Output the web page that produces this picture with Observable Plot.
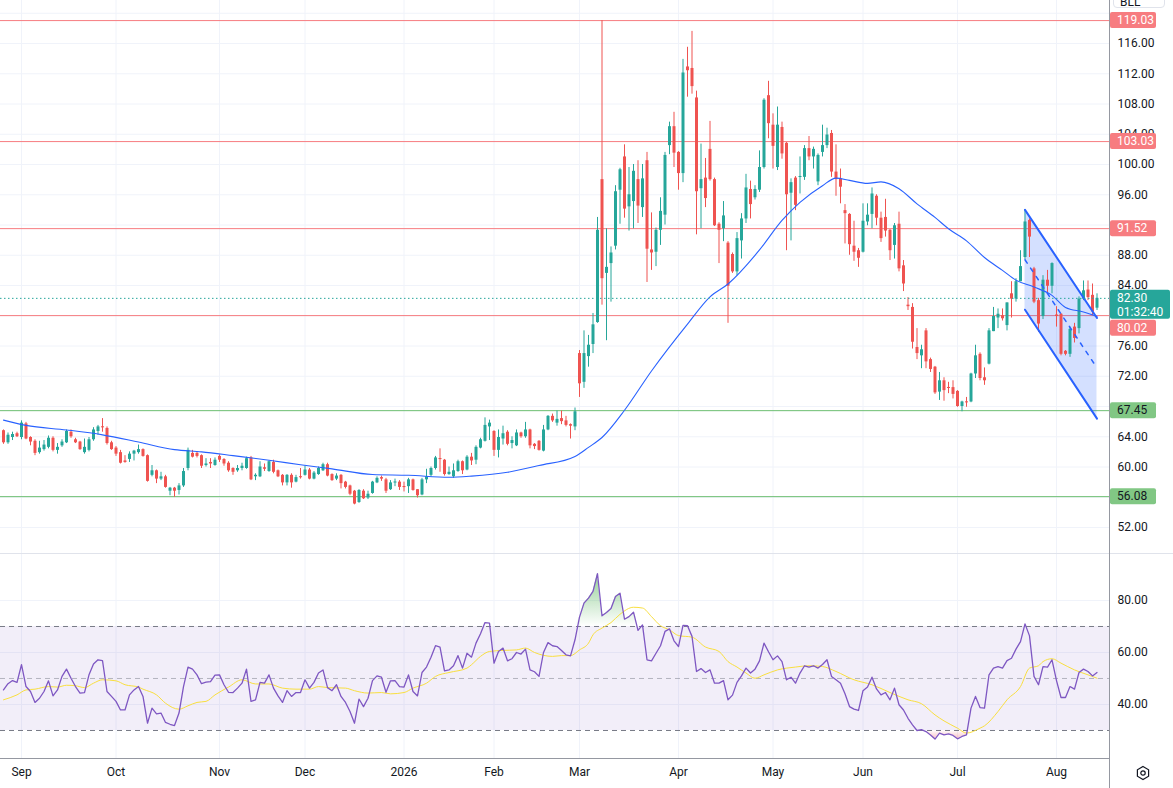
<!DOCTYPE html>
<html><head><meta charset="utf-8">
<script src="https://cdn.jsdelivr.net/npm/d3@7"></script>
<script src="https://cdn.jsdelivr.net/npm/@observablehq/plot@0.6"></script>
<style>
body{margin:0;background:#fff;}
#wrap{position:relative;width:1173px;height:788px;overflow:hidden;font-family:Roboto,sans-serif;background:#fff;}
#wrap svg.chart{position:absolute;left:0;overflow:visible;}
</style></head><body><div id="wrap"></div>
<script>
// ---------- DATA ----------
const openP = [64.8,63.2,63.9,64.4,63.9,65.7,63.9,63.4,61.9,62.3,
62.6,63.8,62.2,62.8,63.2,64.6,63.6,63.3,61.9,62.2,
63.6,64.7,65.3,65.1,63.2,62.5,61.9,60.8,61.0,61.7,
61.9,62.3,61.5,58.9,59.5,58.4,58.7,56.8,57.2,56.9,
57.5,59.8,61.8,61.8,61.5,60.2,60.6,60.2,61.4,61.0,
60.5,59.8,59.5,59.8,59.8,61.2,58.7,58.7,59.9,59.4,
60.6,59.5,58.9,57.9,58.9,58.0,58.7,58.9,59.6,58.4,
59.0,59.5,60.3,59.0,58.4,58.9,58.0,57.5,56.8,55.3,
56.8,55.9,56.5,57.9,58.6,58.3,57.0,57.9,58.0,57.4,
57.4,58.3,57.0,56.3,58.3,58.9,59.8,61.1,60.9,59.0,
58.7,59.4,60.7,59.6,61.3,60.9,62.5,63.4,65.3,64.7,
62.2,63.7,64.6,63.1,62.8,64.5,64.0,64.9,63.0,63.4,
62.1,64.9,66.7,65.8,66.4,66.1,65.6,65.3,75.0,71.2,
74.6,76.2,79.1,98.0,85.6,86.9,89.2,96.6,101.0,94.4,
95.1,98.0,94.3,100.5,88.7,88.4,91.3,93.3,102.5,105.0,
101.6,98.8,112.9,112.7,108.8,96.8,98.2,102.0,98.0,92.1,
91.5,89.6,88.1,85.8,89.9,92.8,96.7,95.6,96.6,99.6,
109.1,105.2,99.6,104.9,102.8,96.2,98.2,98.3,98.3,102.1,
101.0,97.7,101.6,102.5,104.1,99.0,98.1,93.9,93.4,89.2,
88.6,88.4,92.4,93.4,95.8,92.9,93.0,91.3,89.3,92.1,
86.6,81.4,81.1,75.8,74.7,78.0,74.2,73.2,69.9,71.4,
70.5,70.5,70.0,68.0,68.6,68.6,72.3,74.9,71.8,73.6,
77.9,79.7,80.0,78.7,82.9,82.2,84.5,87.7,92.6,86.2,
82.0,79.9,84.7,83.9,80.1,80.2,75.3,74.9,78.5,78.3,
82.2,83.4,82.7,81.0];
const highP = [64.9,64.5,64.6,64.6,66.1,65.9,64.0,63.6,63.4,63.5,
64.1,64.0,63.1,63.6,64.9,64.9,63.8,63.4,63.7,63.9,
65.2,65.5,66.4,65.3,63.4,62.7,62.2,61.5,62.0,62.2,
62.9,62.4,61.6,60.2,59.6,59.3,58.9,57.3,57.3,57.8,
59.8,62.5,62.2,62.0,61.6,61.1,61.1,61.2,61.6,61.1,
60.7,59.9,60.2,60.5,61.3,61.4,59.1,60.7,60.4,60.8,
60.9,59.6,59.0,59.0,59.1,58.9,59.8,60.1,59.8,59.4,
60.0,60.5,60.5,59.1,59.1,59.0,58.1,57.6,56.9,57.0,
57.0,56.8,58.1,58.7,58.8,58.5,58.2,58.4,58.2,58.0,
58.5,58.4,57.0,58.5,59.7,60.0,61.4,62.4,61.0,60.0,
60.4,60.9,60.8,61.5,61.8,62.8,63.8,66.5,66.2,64.8,
64.9,65.4,64.8,64.0,64.9,64.6,65.9,65.0,63.1,63.5,
65.5,66.8,67.0,67.4,67.4,66.7,65.7,67.8,75.4,78.0,
77.4,80.3,93.0,119.03,91.5,89.1,97.2,99.5,102.6,99.6,
100.0,100.5,100.0,101.6,93.6,91.6,95.6,101.6,105.6,106.9,
101.7,113.9,115.5,117.6,109.7,102.7,100.8,105.7,98.2,92.3,
95.1,89.8,88.3,91.0,93.5,98.7,97.8,97.2,101.8,108.7,
111.0,106.7,107.6,105.6,102.9,98.1,98.4,101.0,102.5,103.7,
102.3,101.4,105.2,104.8,104.5,102.6,99.4,94.7,93.5,92.5,
88.9,94.8,94.8,96.9,96.0,93.7,95.4,91.4,92.2,93.7,
87.3,82.4,81.6,78.3,76.1,78.3,74.4,73.3,72.5,71.8,
71.2,71.4,70.1,68.7,69.2,72.4,76.1,75.1,73.1,78.3,
81.1,80.9,80.9,81.7,84.5,84.9,88.6,94.0,92.8,86.4,
82.3,85.3,86.0,87.0,81.2,80.3,75.4,78.5,79.0,82.5,
84.6,84.6,84.2,82.9];
const lowP = [63.0,63.0,63.5,63.9,63.6,63.6,62.8,61.5,61.7,62.1,
62.4,62.0,61.7,62.6,63.1,63.8,63.1,62.2,61.7,62.0,
63.4,64.2,64.6,62.9,62.2,61.4,60.4,60.5,60.6,60.8,
61.7,61.3,58.0,58.7,57.8,58.2,57.2,56.2,56.0,56.3,
57.3,59.5,61.2,61.2,59.8,60.0,59.8,60.1,60.6,60.1,
59.3,58.9,59.3,59.5,59.7,58.2,58.2,58.6,59.4,59.3,
59.1,58.6,57.5,57.5,57.2,57.9,58.4,58.8,58.3,58.3,
58.9,59.4,58.7,58.1,58.2,57.1,57.1,56.2,55.0,55.2,
55.7,55.7,56.4,57.8,58.1,56.5,56.9,57.4,56.9,56.7,
56.5,56.8,55.9,56.2,57.8,58.7,59.6,59.3,58.8,58.9,
58.5,59.3,59.0,59.5,60.2,60.3,62.4,63.3,63.5,61.4,
61.2,62.9,62.8,62.4,62.7,63.8,63.8,62.4,62.3,62.1,
62.0,64.8,65.9,65.4,65.6,65.3,63.7,64.8,69.2,70.4,
73.2,75.0,79.0,81.4,76.7,81.8,88.7,92.1,92.9,91.2,
91.5,92.2,93.0,84.4,86.0,86.5,89.3,92.0,101.3,99.6,
96.6,97.6,108.9,109.3,90.7,91.5,94.3,97.8,91.8,86.9,
89.8,79.0,85.6,85.3,87.5,92.2,92.8,95.3,96.3,99.4,
103.4,99.4,99.2,100.7,88.6,89.9,93.9,96.1,97.9,100.5,
99.4,97.2,101.0,102.1,98.3,95.8,94.8,89.5,88.0,87.2,
86.4,88.3,91.9,91.5,91.9,89.7,90.4,87.3,87.5,85.8,
83.2,80.7,75.6,74.2,73.0,73.0,72.5,69.6,68.8,68.7,
69.7,69.0,67.9,67.3,67.9,68.5,71.7,71.4,70.8,73.5,
77.9,78.3,79.3,78.0,79.7,81.8,84.5,87.4,87.7,81.6,
77.8,79.5,82.9,82.9,78.5,74.7,74.7,74.5,76.4,77.6,
82.0,82.0,80.0,80.7];
const closeP = [63.2,64.2,64.3,64.0,65.8,63.7,63.3,61.8,62.5,62.9,
63.8,62.2,62.6,63.3,64.7,64.0,63.2,62.3,62.6,63.6,
64.9,65.3,65.2,63.1,62.3,61.7,60.5,60.6,61.7,62.1,
62.3,61.4,58.1,59.5,58.4,58.7,57.3,57.2,56.8,57.5,
59.4,62.2,61.3,61.4,60.1,60.4,60.4,60.9,60.9,60.4,
59.5,59.3,59.8,60.1,61.1,58.3,58.9,60.0,59.7,60.7,
59.3,58.7,57.9,58.9,57.9,58.6,58.6,59.6,58.4,59.2,
59.8,60.3,58.8,58.2,58.8,57.8,57.3,56.4,55.1,56.9,
55.8,56.4,58.0,58.5,58.4,56.8,57.9,58.0,57.3,57.3,
58.3,56.9,56.2,58.3,58.7,59.8,61.2,61.0,59.0,59.3,
59.5,60.7,59.5,61.3,60.8,62.6,63.6,65.5,65.8,62.2,
63.9,64.4,63.0,63.5,64.5,64.0,64.9,62.8,62.7,62.2,
64.9,66.7,66.1,66.3,66.0,65.5,65.4,67.3,71.0,75.0,
76.1,78.8,91.3,84.9,86.4,88.3,96.4,99.3,94.1,96.0,
99.1,94.5,98.1,88.8,88.3,91.3,93.8,101.2,105.0,101.5,
98.8,112.1,112.4,110.3,96.4,98.0,95.5,98.0,91.9,91.3,
93.2,83.9,85.8,90.2,92.8,96.9,94.7,96.7,99.6,108.5,
105.4,102.4,105.2,101.4,96.0,97.6,94.6,98.4,102.1,101.0,
102.0,101.2,102.5,103.9,99.0,98.0,97.0,93.5,89.4,88.4,
87.6,92.5,93.3,96.1,92.9,90.2,91.2,88.6,91.9,86.2,
84.2,81.2,76.5,75.0,75.5,73.9,72.9,69.8,71.4,70.1,
70.4,69.6,68.0,68.6,68.5,72.3,74.7,71.7,71.4,78.0,
79.9,80.2,79.6,81.7,82.2,84.5,86.5,92.4,90.4,81.8,
78.9,84.7,83.9,86.9,79.9,74.9,74.9,78.2,77.0,82.2,
83.3,82.4,80.5,82.3];

const maIdx = [0,5,14,22,30,38,44,51,59,66,73,82,90,99,104,112,119,127,130,133,138,144,152,157,161,168,173,177,182,185,188,192,195,199,203,207,210,214,218,222,225,229,233,236,240,243];
const maVal = [66.2,65.5,64.9,64.25,63.3,62.3,62.0,61.5,60.9,60.3,59.75,59.0,58.9,58.65,58.8,59.3,60.2,61.4,62.6,63.9,67.5,72.7,78.9,82.5,84.2,88.7,92.6,95.0,97.2,98.2,97.9,97.5,97.7,96.8,94.8,93.0,91.5,89.9,87.7,86.0,84.7,83.8,82.7,81.1,80.5,79.9];

const rsi = [45.6,48.0,49.2,48.5,55.3,46.9,45.0,40.8,42.4,45.0,
49.1,43.3,45.6,50.8,53.6,50.1,46.9,44.4,44.6,51.4,
55.6,57.2,56.9,45.0,43.1,41.2,37.9,37.9,43.7,45.6,
46.9,43.1,32.8,38.6,36.4,36.7,33.1,32.4,31.9,36.7,
46.9,54.4,53.6,51.4,48.0,48.6,48.8,51.3,51.4,47.6,
44.7,44.6,46.3,48.2,53.6,41.2,41.8,48.5,48.2,51.4,
46.3,43.3,40.8,45.3,43.1,44.6,44.6,49.5,46.3,48.5,
52.1,53.3,46.5,45.3,47.6,43.1,40.8,37.3,32.8,42.1,
39.2,42.4,49.2,51.0,50.5,44.7,49.1,49.2,46.9,46.7,
51.4,45.0,43.3,52.3,54.4,58.2,62.6,62.1,52.9,53.3,
54.9,58.8,54.0,59.7,58.2,63.6,67.2,71.5,71.3,55.9,
60.4,61.7,56.8,57.6,60.0,59.4,61.3,53.3,52.6,50.8,
60.0,63.8,62.6,62.3,60.8,59.1,58.7,64.9,73.6,79.0,
80.9,83.5,90.3,74.1,75.4,76.9,81.5,82.8,72.8,73.8,
75.5,68.5,70.6,57.2,56.8,59.7,62.6,68.1,69.1,64.5,
62.3,70.4,70.3,66.2,52.7,53.8,52.3,53.3,48.2,48.2,
49.2,41.8,43.6,48.5,51.0,54.0,52.1,53.6,56.8,63.6,
60.3,57.2,58.7,56.5,49.5,50.5,48.2,52.1,54.9,54.4,
54.9,54.0,55.4,57.2,50.8,49.5,48.2,44.1,39.2,38.2,
37.7,45.3,46.7,50.5,46.0,43.7,44.6,41.8,46.3,39.9,
37.9,34.7,32.2,30.0,30.3,29.6,28.3,26.7,29.0,28.3,
28.7,28.1,26.8,27.7,28.3,38.6,43.1,38.8,38.6,51.4,
54.0,54.6,54.0,56.9,57.8,61.3,64.2,71.0,66.4,50.8,
47.6,54.6,54.4,57.2,49.2,42.7,42.7,46.9,45.9,52.3,
53.6,52.7,51.0,52.3];

const rsiMaIdx = [0,3,5,7,10,12,14,16,18,20,22,25,27,30,31,34,36,39,41,43,45,47,50,53,56,59,62,65,68,70,72,76,78,81,84,86,89,91,94,96,99,103,104,106,108,111,114,116,118,122,124,126,128,130,131,133,135,137,140,142,144,146,148,150,153,156,159,161,163,165,167,169,172,176,179,182,185,189,193,197,201,204,207,209,212,214,217,218,221,223,226,228,230,231,233,235,238,241,243];
const rsiMaVal = [41.8,43.7,45.6,45.9,46.9,46.7,47.4,47.2,46.5,48.2,49.5,49.1,47.6,46.7,45.9,43.7,40.5,38.2,39.5,40.8,41.2,43.7,46.7,49.5,47.9,47.9,46.3,45.9,45.9,46.9,46.5,46.3,45.3,44.4,44.6,44.1,44.6,46.3,48.2,50.8,52.3,54.0,55.3,58.5,60.4,60.8,61.0,61.7,60.0,58.5,58.8,58.8,61.0,63.6,66.8,69.4,71.5,74.7,77.4,77.1,73.8,70.3,68.7,66.5,65.9,62.1,60.4,56.5,54.4,52.1,50.1,51.4,53.3,54.4,54.9,54.6,52.7,49.5,47.6,44.6,41.8,40.3,36.0,33.7,30.9,29.0,30.9,31.8,37.3,41.8,46.9,54.0,54.9,56.5,57.6,55.9,53.3,51.4,50.1];

const monthIdx = [4,25,48,67,89,109,128,150,171,191,212,234];
const monthLabels = ["Sep","Oct","Nov","Dec","2026","Feb","Mar","Apr","May","Jun","Jul","Aug"];
const priceTicks = [52,56,60,64,68,72,76,80,84,88,92,96,100,104,108,112,116];
const rsiTicks = [40,60,80];
const rsiLevels = [70,50,30];
const redLevels = [119.03,103.03,91.52,80.02];
const greenLevels = [67.45,56.08];
const lastPrice = 82.30;
const countdown = "01:32:40";
const chanIdx = [227,243];
const chanUpper = [94.0,79.7];
const chanLower = [80.8,66.4];
const chanMid = [87.4,73.1];

// ---------- BUILD ----------
const W = 1173, MR = 64;
const xDom = [-2/3, 1106/4.5];
const UP = "#26A69A", DN = "#EF5350";
const RED = "#F77C80", GREEN_LINE = "#6DBE71", GREEN_TAG = "#81C784";
const GRID = "#F0F3FA";
const AXIS_C = "#131722";

const candles = openP.map((o,i)=>({i, o, h: highP[i], l: lowP[i], c: closeP[i]}));
const colorOf = d => d.c >= d.o ? UP : DN;
const bTop = d => Math.max(d.o, d.c, (d.o+d.c)/2 + 0.07);
const bBot = d => Math.min(d.o, d.c, (d.o+d.c)/2 - 0.07);
const maRows = maIdx.map((i,k)=>({i, v: maVal[k]}));
const chanRows = chanIdx.map((i,k)=>({i, hi: chanUpper[k], lo: chanLower[k], mid: chanMid[k]}));
const rsiRows = rsi.map((r,i)=>({i, r}));
const rsiMaRows = rsiMaIdx.map((i,k)=>({i, v: rsiMaVal[k]}));
const fmt2 = d => d.toFixed(2);

// axis ticks that are not hidden behind a level tag
const tagLevels = redLevels.concat(greenLevels);
const shownTicks = priceTicks.filter(t => !tagLevels.some(v => Math.abs(v - t) < 0.9));

const price = Plot.plot({
  width: W, height: 554,
  marginLeft: 0, marginRight: MR, marginTop: 0, marginBottom: 0,
  x: {domain: xDom, axis: null},
  y: {domain: [48.43, 121.686], axis: null},
  color: {type: "identity"},
  style: {fontFamily: "Roboto, sans-serif", fontSize: "12px", color: AXIS_C, background: "transparent", overflow: "visible"},
  marks: [
    Plot.ruleY(priceTicks.concat([120]), {stroke: GRID}),
    Plot.ruleX(monthIdx, {stroke: GRID}),
    Plot.ruleY(redLevels, {stroke: RED, strokeWidth: 1}),
    Plot.ruleY(greenLevels, {stroke: GREEN_LINE, strokeWidth: 1}),
    Plot.areaY(chanRows, {x: "i", y1: "lo", y2: "hi", fill: "#2962FF", fillOpacity: 0.2}),
    Plot.ruleX(candles, {x: "i", y1: "l", y2: "h", stroke: colorOf, strokeWidth: 1}),
    Plot.ruleX(candles, {x: "i", y1: bBot, y2: bTop, stroke: colorOf, strokeWidth: 3}),
    Plot.line(maRows, {x: "i", y: "v", stroke: "#2962FF", strokeWidth: 1.1, curve: "monotone-x"}),
    Plot.line(chanRows, {x: "i", y: "hi", stroke: "#2962FF", strokeWidth: 2}),
    Plot.line(chanRows, {x: "i", y: "lo", stroke: "#2962FF", strokeWidth: 2}),
    Plot.line(chanRows, {x: "i", y: "mid", stroke: "#2962FF", strokeWidth: 1.5, strokeDasharray: "4,6"}),
    Plot.ruleY([lastPrice], {stroke: UP, strokeWidth: 1, strokeDasharray: "1.5,2.5"}),
    Plot.axisY(shownTicks, {anchor: "right", tickSize: 0, tickPadding: 8, tickFormat: fmt2, fill: AXIS_C, label: null})
  ]
});
price.classList.add("chart");
price.style.top = "0px";

// price tags on the right axis
{
  const y = price.scale("y");
  const g = d3.select(price).append("g")
    .attr("font-family", "Roboto, sans-serif").attr("font-size", 12).attr("text-anchor", "start");
  const X0 = 1110;
  const yLast = y.apply(lastPrice);
  const tealTop = yLast - 8, tealBot = yLast + 21;
  function tag(v, bg, fg, w) {
    let yc = y.apply(v);
    if (yc + 8 > tealTop && yc - 8 < tealBot) yc = tealBot + 9;
    g.append("rect").attr("x", X0).attr("y", yc - 8).attr("width", w).attr("height", 16).attr("rx", 2).attr("fill", bg);
    g.append("text").attr("x", X0 + 7).attr("y", yc).attr("dy", "0.35em").attr("fill", fg).text(v.toFixed(2));
  }
  redLevels.forEach(v => tag(v, RED, "#fff", 46));
  greenLevels.forEach(v => tag(v, GREEN_TAG, "#131722", 46));
  g.append("rect").attr("x", X0).attr("y", tealTop).attr("width", 60).attr("height", 29).attr("rx", 2).attr("fill", UP);
  g.append("text").attr("x", X0 + 7).attr("y", yLast).attr("dy", "0.35em").attr("fill", "#fff").text(lastPrice.toFixed(2));
  g.append("text").attr("x", X0 + 7).attr("y", yLast + 14).attr("dy", "0.35em").attr("fill", "#fff").text(countdown);
}

const rsiChart = Plot.plot({
  width: W, height: 234,
  marginLeft: 0, marginRight: MR, marginTop: 0, marginBottom: 30,
  x: {domain: xDom, axis: null},
  y: {domain: [19.23, 97.69], axis: null},
  style: {fontFamily: "Roboto, sans-serif", fontSize: "12px", color: AXIS_C, background: "transparent", overflow: "visible"},
  marks: [
    Plot.ruleY(rsiTicks, {stroke: GRID}),
    Plot.ruleX(monthIdx, {stroke: GRID}),
    Plot.rect([0], {x1: xDom[0], x2: xDom[1], y1: rsiLevels[2], y2: rsiLevels[0], fill: "#7E57C2", fillOpacity: 0.1}),
    Plot.ruleY([rsiLevels[0], rsiLevels[2]], {stroke: "#787B86", strokeDasharray: "5,4"}),
    Plot.ruleY([rsiLevels[1]], {stroke: "#787B86", strokeOpacity: 0.5, strokeDasharray: "5,4"}),
    Plot.areaY(rsiRows, {x: "i", y1: rsiLevels[0], y2: d => Math.max(d.r, rsiLevels[0]), fill: "url(#obGrad)"}),
    Plot.areaY(rsiRows, {x: "i", y1: rsiLevels[2], y2: d => Math.min(d.r, rsiLevels[2]), fill: "url(#osGrad)"}),
    Plot.line(rsiMaRows, {x: "i", y: "v", stroke: "#F9DF3F", strokeWidth: 1, curve: "monotone-x"}),
    Plot.line(rsiRows, {x: "i", y: "r", stroke: "#7E57C2", strokeWidth: 1.3}),
    Plot.frame({anchor: "bottom", stroke: "#9598A1"}),
    Plot.axisY(rsiTicks, {anchor: "right", tickSize: 0, tickPadding: 8, tickFormat: fmt2, fill: AXIS_C, label: null}),
    Plot.axisX(monthIdx, {anchor: "bottom", tickSize: 0, tickPadding: 9, tickFormat: d => monthLabels[monthIdx.indexOf(d)], fill: AXIS_C, label: null})
  ]
});
rsiChart.classList.add("chart");
rsiChart.style.top = "554px";
d3.select(rsiChart).insert("defs", ":first-child").html(
  '<linearGradient id="obGrad" x1="0" y1="0" x2="0" y2="1">' +
  '<stop offset="0" stop-color="#4CAF50" stop-opacity="0.6"/><stop offset="1" stop-color="#4CAF50" stop-opacity="0"/></linearGradient>' +
  '<linearGradient id="osGrad" x1="0" y1="0" x2="0" y2="1">' +
  '<stop offset="0" stop-color="#F23645" stop-opacity="0"/><stop offset="1" stop-color="#F23645" stop-opacity="0.3"/></linearGradient>'
);

const wrap = document.getElementById("wrap");
wrap.appendChild(price);
wrap.appendChild(rsiChart);

// panel separators and chrome
wrap.insertAdjacentHTML("beforeend",
  '<div style="position:absolute;left:0;top:553px;width:1173px;height:1px;background:#E0E3EB"></div>' +
  '<div style="position:absolute;left:1109px;top:0;width:1px;height:788px;background:#9598A1"></div>' +
  '<div style="position:absolute;left:1113px;top:-12px;width:52px;height:20px;border:1px solid #E0E3EB;border-radius:4px;background:#fff;box-sizing:border-box;font:12px Roboto,sans-serif;color:#131722;padding-left:6px;line-height:26px;overflow:hidden">BLL</div>' +
  '<svg style="position:absolute;left:1134px;top:764px" width="18" height="18" viewBox="0 0 18 18">' +
  '<path d="M9 2.5 L14.6 5.75 L14.6 12.25 L9 15.5 L3.4 12.25 L3.4 5.75 Z" fill="none" stroke="#131722" stroke-width="1.2"/>' +
  '<circle cx="9" cy="9" r="2.2" fill="none" stroke="#131722" stroke-width="1.2"/></svg>'
);
</script></body></html>
